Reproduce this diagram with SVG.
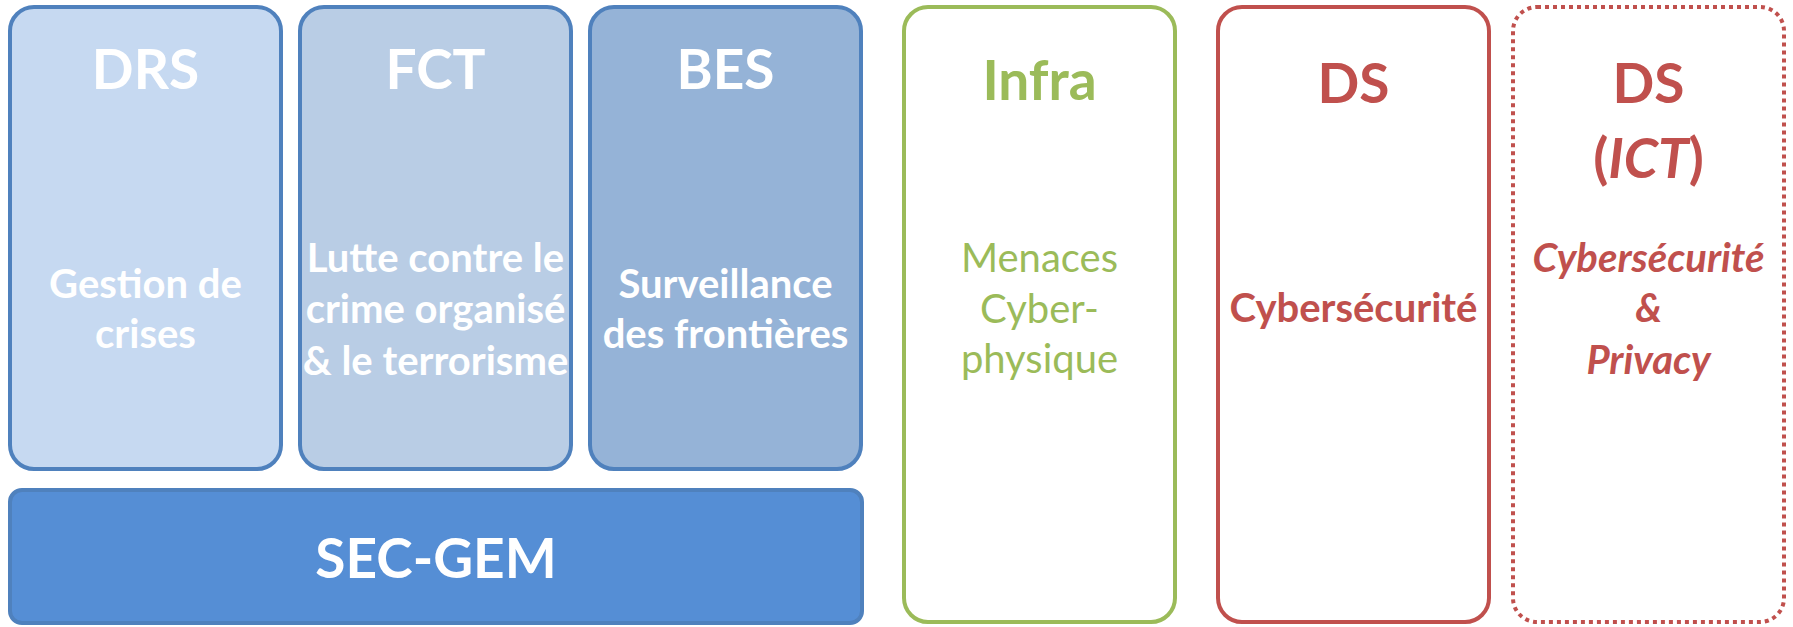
<svg xmlns="http://www.w3.org/2000/svg" width="1793" height="627" viewBox="0 0 1793 627">
<style>
.box{stroke-width:4}
.blue{stroke:#4F81BD}
.t{font-family:Lato,"Liberation Sans",sans-serif;font-weight:bold;text-anchor:middle}
.title{font-size:55px}
.body{font-size:40px}
.w{fill:#FFFFFF}
.g{fill:#9BBB59}
.r{fill:#C0504D}
.reg{font-weight:normal}
.it{font-style:italic}
</style>
<rect width="1793" height="627" fill="#FFFFFF"/>
<g id="drs">
<rect class="box blue" x="10" y="7" width="271" height="462" rx="24" fill="#C6D9F1"/>
<text class="t title w" x="145.5" y="89">DRS</text>
<text class="t body w" x="145.5" y="298">Gestion de</text>
<text class="t body w" x="145.5" y="348">crises</text>
</g>
<g id="fct">
<rect class="box blue" x="300" y="7" width="271" height="462" rx="24" fill="#B9CDE5"/>
<text class="t title w" x="435.5" y="89">FCT</text>
<text class="t body w" x="435.5" y="272">Lutte contre le</text>
<text class="t body w" x="435.5" y="323">crime organisé</text>
<text class="t body w" x="435.5" y="375">&amp; le terrorisme</text>
</g>
<g id="bes">
<rect class="box blue" x="590" y="7" width="271" height="462" rx="24" fill="#95B3D7"/>
<text class="t title w" x="725.5" y="89">BES</text>
<text class="t body w" x="725.5" y="298">Surveillance</text>
<text class="t body w" x="725.5" y="348">des frontières</text>
</g>
<g id="secgem">
<rect class="box blue" x="10" y="490" width="852" height="133" rx="12" fill="#558ED5"/>
<text class="t title w" x="436" y="578">SEC-GEM</text>
</g>
<g id="infra">
<rect class="box" x="904" y="7" width="271" height="615" rx="24" fill="none" stroke="#9BBB59"/>
<text class="t title g" x="1039.5" y="100">Infra</text>
<text class="t body g reg" x="1039.5" y="272">Menaces</text>
<text class="t body g reg" x="1039.5" y="323">Cyber-</text>
<text class="t body g reg" x="1039.5" y="373">physique</text>
</g>
<g id="ds">
<rect class="box" x="1218" y="7" width="271" height="615" rx="24" fill="none" stroke="#C0504D"/>
<text class="t title r" x="1353.5" y="103">DS</text>
<text class="t body r" x="1353.5" y="322">Cybersécurité</text>
</g>
<g id="dsict">
<rect class="box" x="1513" y="7" width="271" height="615" rx="24" fill="none" stroke="#C0504D" stroke-dasharray="4 4"/>
<text class="t title r" x="1648.5" y="103">DS</text>
<text class="t title r" x="1648.5" y="178">(<tspan class="it">ICT</tspan>)</text>
<text class="t body r it" x="1648.5" y="272">Cybersécurité</text>
<text class="t body r it" x="1648.5" y="322">&amp;</text>
<text class="t body r it" x="1648.5" y="374">Privacy</text>
</g>
<g id="connectors"></g>
</svg>
